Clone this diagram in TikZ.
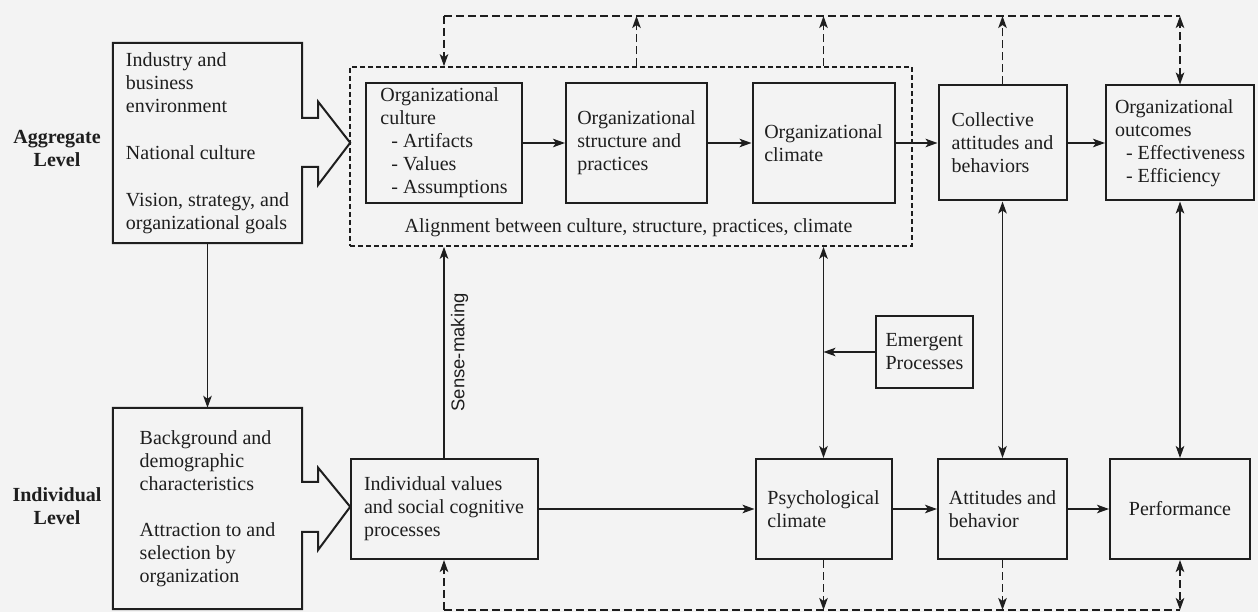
\documentclass[tikz,border=0pt]{standalone}
\usepackage{fontspec}
\setmainfont{Liberation Serif}
\newfontfamily\labelsans{Liberation Sans}
\usetikzlibrary{arrows.meta,calc}

\definecolor{bgc}{RGB}{243,243,243}
\definecolor{ink}{RGB}{30,30,30}

\begin{document}
\begin{tikzpicture}[x=1pt,y=-1pt,
  txt/.style={font=\fontsize{20}{23}\selectfont, text=ink, align=left, inner sep=0pt},
  lvl/.style={font=\fontsize{20}{23}\selectfont\bfseries, text=ink, align=center, inner sep=0pt},
  box/.style={txt, draw=ink, line width=2pt},
  ln/.style={draw=ink, line width=1.8pt},
  tip/.tip={Stealth[length=12pt,width=8.5pt,inset=3pt]},
  arr/.style={ln, -tip},
  darr/.style={ln, tip-tip},
  dloop/.style={dash pattern=on 8pt off 4pt},
]
\useasboundingbox (0,0) rectangle (1258,612);
\fill[bgc] (0,0) rectangle (1258,612);

% level labels
\node[lvl] (aggl) at (57,148) {Aggregate\\Level};
\node[lvl] (indl) at (57,506) {Individual\\Level};

% context box (aggregate) with its block arrow
\node[txt, minimum width=189pt, minimum height=200pt] (env) at (207.5,143)
  {Industry and\\business\\environment\\[24pt]National culture\\[24pt]Vision, strategy, and\\organizational goals};
\draw[ln, line width=2pt, line join=miter] (env.north west) -- (env.north east) -- ++(0,75) -- ++(16,0) -- ++(0,-16)
  -- ++(32,41) -- ++(-32,42) -- ++(0,-18) -- ++(-16,0) -- (env.south east) -- (env.south west) -- cycle;

% context box (individual) with its block arrow
\node[txt, minimum width=189pt, minimum height=201pt] (bg) at (207.5,508.5)
  {Background and\\demographic\\characteristics\\[23pt]Attraction to and\\selection by\\organization};
\draw[ln, line width=2pt, line join=miter] (bg.north west) -- (bg.north east) -- ++(0,74) -- ++(16,0) -- ++(0,-14)
  -- ++(32,39) -- ++(-32,43) -- ++(0,-18) -- ++(-16,0) -- (bg.south east) -- (bg.south west) -- cycle;

\draw[arr] (env.south) -- (bg.north);

% alignment frame
\node[draw=ink, line width=1.6pt, dash pattern=on 5pt off 3pt, minimum width=562pt, minimum height=179pt, inner sep=0pt] (align) at (631,156.5) {};
\node[txt] (alignlbl) at (628.5,228) {Alignment between culture, structure, practices, climate};

% aggregate row
\node[box, minimum width=156pt, minimum height=120pt] (cult) at (444,143)
  {Organizational\\culture\\\hspace*{11pt}- Artifacts\\\hspace*{11pt}- Values\\\hspace*{11pt}- Assumptions};
\node[box, minimum width=141pt, minimum height=120pt] (struct) at (636.5,143)
  {Organizational\\structure and\\practices};
\node[box, minimum width=142pt, minimum height=120pt] (clim) at (823.5,143)
  {Organizational\\climate};
\node[box, minimum width=128pt, minimum height=115pt] (coll) at (1002.5,143)
  {Collective\\attitudes and\\behaviors};
\node[box, minimum width=148pt, minimum height=115pt] (outc) at (1180,143)
  {Organizational\\outcomes\\\hspace*{11pt}- Effectiveness\\\hspace*{11pt}- Efficiency};

% individual row
\node[box, minimum width=187pt, minimum height=100pt] (indv) at (444,509)
  {Individual values\\and social cognitive\\processes};
\node[box, minimum width=136pt, minimum height=100pt] (psych) at (823.5,509)
  {Psychological\\climate};
\node[box, minimum width=129pt, minimum height=100pt] (att) at (1002.5,509)
  {Attitudes and\\behavior};
\node[box, minimum width=140pt, minimum height=100pt] (perf) at (1180,509)
  {Performance};

\node[box, minimum width=97pt, minimum height=72pt] (emerg) at (924.5,352)
  {Emergent\\Processes};

% horizontal flows
\draw[arr] (cult.east) -- (struct.west);
\draw[arr] (struct.east) -- (clim.west);
\draw[arr] (clim.east) -- (clim.east -| coll.west);
\draw[arr] (coll.east) -- (outc.west);
\draw[arr] (indv.east) -- (psych.west);
\draw[arr] (psych.east) -- (att.west);
\draw[arr] (att.east) -- (perf.west);

% vertical links between levels
\draw[arr] (indv.north) -- node[midway, rotate=90, anchor=north, inner sep=6pt, font=\labelsans\fontsize{18.5}{20}\selectfont, text=ink] (sense) {Sense-making} (indv.north |- align.south);
\draw[darr] (psych |- align.south) -- (psych.north);
\draw[arr] (emerg.west) -- (emerg.west -| psych.north);
\draw[darr] (coll.south) -- (att.north);
\draw[darr] (outc.south) -- (perf.north);

% feedback loop along the top
\coordinate (tl) at (444,16);
\coordinate (tr) at (1180,16);
\draw[ln, dloop] (tl) -- (tr);
\draw[arr, dloop] (tl) -- (tl |- align.north);
\draw[arr, dloop] (struct |- align.north) -- (struct |- tl);
\draw[arr, dloop] (clim |- align.north) -- (clim |- tl);
\draw[arr, dloop] (coll.north) -- (coll |- tl);
\draw[darr, dloop] (outc.north) -- (tr);

% feedback loop along the bottom
\coordinate (bl) at (444,610);
\coordinate (br) at (1180,610);
\draw[ln, dloop] (bl) -- (br);
\draw[arr, dloop] (bl) -- (indv.south);
\draw[arr, dloop] (psych.south) -- (psych |- bl);
\draw[arr, dloop] (att.south) -- (att |- bl);
\draw[darr, dloop] (perf.south) -- (br);
\end{tikzpicture}
\end{document}
